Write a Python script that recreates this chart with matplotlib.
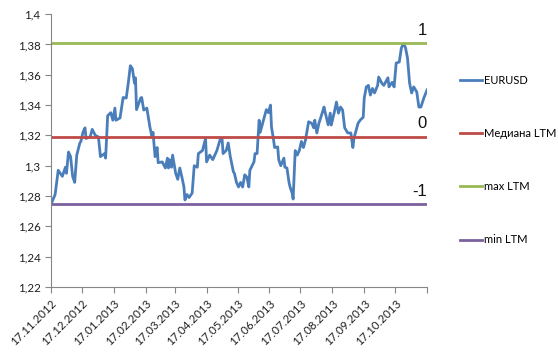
import pandas as pd
import matplotlib
matplotlib.use('Agg')
import matplotlib.pyplot as plt
import matplotlib.dates as mdates

plt.rcParams['font.family'] = ['Lato', 'DejaVu Sans']

# EURUSD
dates = [
    '2012-11-17', '2012-11-21', '2012-11-24', '2012-11-28', '2012-12-01', '2012-12-02',
    '2012-12-04', '2012-12-06', '2012-12-08', '2012-12-10', '2012-12-12', '2012-12-15',
    '2012-12-16', '2012-12-18', '2012-12-20', '2012-12-21', '2012-12-25', '2012-12-27',
    '2012-12-30', '2013-01-02', '2013-01-04', '2013-01-06', '2013-01-08', '2013-01-09',
    '2013-01-11', '2013-01-14', '2013-01-16', '2013-01-18', '2013-01-19', '2013-01-23',
    '2013-01-26', '2013-01-29', '2013-01-31', '2013-02-02', '2013-02-04', '2013-02-06',
    '2013-02-07', '2013-02-08', '2013-02-12', '2013-02-13', '2013-02-15', '2013-02-18',
    '2013-02-21', '2013-02-23', '2013-02-24', '2013-02-26', '2013-02-28', '2013-03-01',
    '2013-03-05', '2013-03-08', '2013-03-10', '2013-03-11', '2013-03-12', '2013-03-14',
    '2013-03-15', '2013-03-18', '2013-03-20', '2013-03-22', '2013-03-24', '2013-03-26',
    '2013-03-27', '2013-03-29', '2013-03-31', '2013-04-03', '2013-04-05', '2013-04-08',
    '2013-04-09', '2013-04-11', '2013-04-13', '2013-04-16', '2013-04-17', '2013-04-20',
    '2013-04-23', '2013-04-27', '2013-04-30', '2013-05-02', '2013-05-03', '2013-05-06',
    '2013-05-08', '2013-05-10', '2013-05-13', '2013-05-14', '2013-05-16', '2013-05-18',
    '2013-05-20', '2013-05-22', '2013-05-24', '2013-05-26', '2013-05-28', '2013-05-29',
    '2013-06-02', '2013-06-03', '2013-06-05', '2013-06-07', '2013-06-08', '2013-06-12',
    '2013-06-14', '2013-06-16', '2013-06-18', '2013-06-19', '2013-06-21', '2013-06-22',
    '2013-06-25', '2013-06-26', '2013-06-28', '2013-07-01', '2013-07-02', '2013-07-04',
    '2013-07-06', '2013-07-07', '2013-07-09', '2013-07-10', '2013-07-12', '2013-07-14',
    '2013-07-16', '2013-07-18', '2013-07-20', '2013-07-22', '2013-07-25', '2013-07-28',
    '2013-07-30', '2013-07-31', '2013-08-02', '2013-08-04', '2013-08-05', '2013-08-09',
    '2013-08-10', '2013-08-13', '2013-08-15', '2013-08-16', '2013-08-19', '2013-08-21',
    '2013-08-23', '2013-08-25', '2013-08-27', '2013-08-29', '2013-09-01', '2013-09-04',
    '2013-09-06', '2013-09-07', '2013-09-11', '2013-09-13', '2013-09-16', '2013-09-17',
    '2013-09-19', '2013-09-21', '2013-09-23', '2013-09-25', '2013-09-27', '2013-09-30',
    '2013-10-01', '2013-10-04', '2013-10-06', '2013-10-10', '2013-10-11', '2013-10-14',
    '2013-10-16', '2013-10-18', '2013-10-21', '2013-10-23', '2013-10-25', '2013-10-27',
    '2013-10-29', '2013-10-31', '2013-11-02', '2013-11-04', '2013-11-07', '2013-11-09',
    '2013-11-11', '2013-11-14', '2013-11-17',
]
eurusd = [
    1.2745, 1.281, 1.297, 1.293, 1.299, 1.295,
    1.309, 1.306, 1.293, 1.289, 1.307, 1.315,
    1.316, 1.322, 1.325, 1.318, 1.319, 1.324,
    1.320, 1.319, 1.306, 1.307, 1.308, 1.305,
    1.333, 1.335, 1.330, 1.338, 1.330, 1.3315,
    1.345, 1.3446, 1.3545, 1.366, 1.364, 1.3545,
    1.358, 1.337, 1.3446, 1.345, 1.3367, 1.338,
    1.3255, 1.319, 1.322, 1.306, 1.312, 1.302,
    1.3025, 1.2985, 1.305, 1.2985, 1.304, 1.299,
    1.307, 1.295, 1.291, 1.2985, 1.2926, 1.286,
    1.2774, 1.281, 1.279, 1.282, 1.300, 1.299,
    1.308, 1.309, 1.310, 1.318, 1.3025, 1.307,
    1.304, 1.310, 1.317, 1.318, 1.308, 1.310,
    1.315, 1.306, 1.296, 1.295, 1.289, 1.286,
    1.289, 1.286, 1.294, 1.2926, 1.286, 1.297,
    1.3025, 1.308, 1.308, 1.330, 1.322, 1.332,
    1.337, 1.335, 1.340, 1.3255, 1.317, 1.312,
    1.3124, 1.304, 1.300, 1.305, 1.299, 1.2985,
    1.289, 1.286, 1.282, 1.278, 1.310, 1.307,
    1.310, 1.316, 1.312, 1.317, 1.329, 1.328,
    1.325, 1.330, 1.3216, 1.328, 1.330, 1.3387,
    1.3354, 1.327, 1.3347, 1.3268, 1.3354, 1.342,
    1.3347, 1.3387, 1.3367, 1.325, 1.3216, 1.3216,
    1.312, 1.318, 1.328, 1.330, 1.332, 1.3446,
    1.352, 1.353, 1.3466, 1.351, 1.348, 1.353,
    1.3585, 1.3545, 1.353, 1.358, 1.352, 1.355,
    1.352, 1.3677, 1.3684, 1.3776, 1.3805, 1.378,
    1.371, 1.3545, 1.348, 1.352, 1.3486, 1.3387,
    1.3387, 1.345, 1.350,
]

median_ltm = 1.3192
max_ltm = 1.3807
min_ltm = 1.2745

tick_dates = ['2012-11-17', '2012-12-17', '2013-01-17', '2013-02-17', '2013-03-17',
              '2013-04-17', '2013-05-17', '2013-06-17', '2013-07-17', '2013-08-17',
              '2013-09-17', '2013-10-17', '2013-11-17']
y_ticks = [1.22, 1.24, 1.26, 1.28, 1.3, 1.32, 1.34, 1.36, 1.38, 1.4]

x = pd.to_datetime(dates)
xt = pd.to_datetime(tick_dates)

fig = plt.figure(figsize=(5.58, 3.53), dpi=100)
ax = fig.add_axes([0.0914, 0.187, 0.674, 0.773])

ax.plot(x, eurusd, color='#4A7EBB', lw=2.0, label='EURUSD')
ax.plot([x[0], x[-1]], [median_ltm, median_ltm], color='#BE4B48', lw=2.0, label='Медиана LTM')
ax.plot([x[0], x[-1]], [max_ltm, max_ltm], color='#98B954', lw=2.0, label='max LTM')
ax.plot([x[0], x[-1]], [min_ltm, min_ltm], color='#7D60A0', lw=2.0, label='min LTM')

ax.set_xlim(xt[0], xt[-1])
ax.set_ylim(1.22, 1.4)
ax.set_yticks(y_ticks)
ax.set_yticklabels([('%g' % v).replace('.', ',') for v in y_ticks])
ax.set_xticks(xt)
ax.set_xticklabels([d.strftime('%d.%m.%Y') for d in xt[:-1]] + [''],
                   rotation=45, ha='right', rotation_mode='anchor')

for s in ['top', 'right']:
    ax.spines[s].set_visible(False)
for s in ['left', 'bottom']:
    ax.spines[s].set_color('#868686')
ax.tick_params(colors='#868686', labelcolor='#1f1f1f', labelsize=8.3, length=4)

# метки уровней
for lvl, txt in [(max_ltm, '1'), (median_ltm, '0'), (min_ltm, '-1')]:
    ax.annotate(txt, (xt[-1], lvl), xytext=(0, 4), textcoords='offset points',
                ha='right', va='bottom', fontsize=12, color='#111111',
                family='Liberation Sans')

ax.legend(loc='center left', bbox_to_anchor=(1.075, 0.465), frameon=False,
          fontsize=8, labelspacing=3.8, handlelength=2.0, handletextpad=0.15,
          borderaxespad=0)

fig.savefig('out.png', dpi=100)
